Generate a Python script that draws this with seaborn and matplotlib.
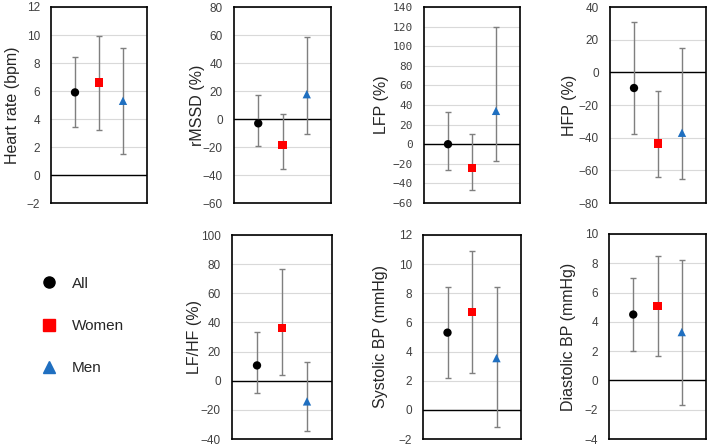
import numpy as np
import pandas as pd
import seaborn as sns
import matplotlib.pyplot as plt
from matplotlib.lines import Line2D

# Values (mean and lower / upper end of the interval)
groups = ['All', 'Women', 'Men']
measures = ['Heart rate (bpm)', 'rMSSD (%)', 'LFP (%)', 'HFP (%)',
            'LF/HF (%)', 'Systolic BP (mmHg)', 'Diastolic BP (mmHg)']

hr_mean = [5.9, 6.6, 5.3]
hr_lo = [3.4, 3.2, 1.5]
hr_hi = [8.4, 9.9, 9.1]

rmssd_mean = [-3.1, -18.4, 17.7]
rmssd_lo = [-19.0, -35.8, -10.7]
rmssd_hi = [17.2, 3.8, 58.3]

lfp_mean = [0.0, -24.0, 34.0]
lfp_lo = [-25.9, -46.6, -17.0]
lfp_hi = [33.3, 9.9, 120.0]

hfp_mean = [-9.6, -43.6, -37.0]
hfp_lo = [-37.5, -63.9, -65.0]
hfp_hi = [30.7, -11.3, 14.8]

lfhf_mean = [10.5, 36.4, -14.2]
lfhf_lo = [-8.5, 4.1, -34.4]
lfhf_hi = [33.7, 77.0, 12.6]

sbp_mean = [5.3, 6.7, 3.55]
sbp_lo = [2.2, 2.5, -1.15]
sbp_hi = [8.4, 10.9, 8.4]

dbp_mean = [4.5, 5.1, 3.3]
dbp_lo = [2.0, 1.7, -1.7]
dbp_hi = [7.0, 8.5, 8.2]

means = [hr_mean, rmssd_mean, lfp_mean, hfp_mean, lfhf_mean, sbp_mean, dbp_mean]
lows = [hr_lo, rmssd_lo, lfp_lo, hfp_lo, lfhf_lo, sbp_lo, dbp_lo]
highs = [hr_hi, rmssd_hi, lfp_hi, hfp_hi, lfhf_hi, sbp_hi, dbp_hi]

# y-axis ranges (min, max, step) per panel
y_ranges = [(-2, 12, 2), (-60, 80, 20), (-60, 140, 20), (-80, 40, 20),
            (-40, 100, 20), (-2, 12, 2), (-4, 10, 2)]

# long-form table
rows = []
for m, mu, lo, hi in zip(measures, means, lows, highs):
    for i, g in enumerate(groups):
        rows.append({'measure': m, 'group': g, 'pos': i + 1,
                     'mean': mu[i], 'lo': lo[i], 'hi': hi[i]})
df = pd.DataFrame(rows)

palette = {'All': 'black', 'Women': '#FF0000', 'Men': '#1F6FC0'}
markers = {'All': 'o', 'Women': 's', 'Men': '^'}

sns.set_style('white')
plt.rcParams['font.family'] = ['Liberation Sans', 'DejaVu Sans']

W, H = 709, 446
fig = plt.figure(figsize=(W / 100, H / 100), dpi=100)

# panel boxes in pixels: left, top, width, height
boxes = [(51, 7, 96, 196), (234, 7, 97, 196), (424, 7, 96, 196), (610, 7, 96, 196),
         (232, 235, 100, 204), (423, 235, 98, 204), (609, 234, 97, 205)]
# anchor (px) of each rotated y label
label_x = [20, 205, 389, 577, 202, 388, 576]

for k, m in enumerate(measures):
    l, t, w, h = boxes[k]
    ax = fig.add_axes([l / W, 1 - (t + h) / H, w / W, h / H])
    sub = df[df['measure'] == m]

    ax.errorbar(sub['pos'], sub['mean'],
                yerr=[sub['mean'] - sub['lo'], sub['hi'] - sub['mean']],
                fmt='none', ecolor='#7F7F7F', elinewidth=1, capsize=2,
                capthick=1, zorder=2)
    sns.scatterplot(data=sub, x='pos', y='mean', hue='group', style='group',
                    palette=palette, markers=markers, s=36, linewidth=0,
                    legend=False, ax=ax, zorder=3)

    ymin, ymax, step = y_ranges[k]
    ax.set_ylim(ymin, ymax)
    ax.set_xlim(0, 4)
    ax.set_yticks(np.arange(ymin, ymax + step / 2, step))
    ax.set_xticks([])
    ax.yaxis.grid(True, color='#D9D9D9', linewidth=0.8)
    ax.set_axisbelow(True)
    ax.axhline(0, color='black', linewidth=1, zorder=1)
    ax.tick_params(axis='y', length=0, pad=8, labelsize=8.5, labelcolor='#404040')
    if m == 'LFP (%)':
        for lab in ax.get_yticklabels():
            lab.set_family('DejaVu Sans Mono')
            lab.set_fontsize(8)
    ax.set_xlabel('')
    ax.set_ylabel(m, fontsize=11.5)
    ax.yaxis.set_label_coords((label_x[k] - l) / w, 0.5)
    for sp in ax.spines.values():
        sp.set_color('black')
        sp.set_linewidth(1.2)

handles = [Line2D([], [], linestyle='none', marker=markers[g], color=palette[g],
                  markersize=8) for g in groups]
fig.legend(handles, groups, loc='upper left', bbox_to_anchor=(20 / W, 1 - 263 / H),
           frameon=False, fontsize=11, labelspacing=1.85, handletextpad=0.5)

fig.savefig('out.png', dpi=100)
